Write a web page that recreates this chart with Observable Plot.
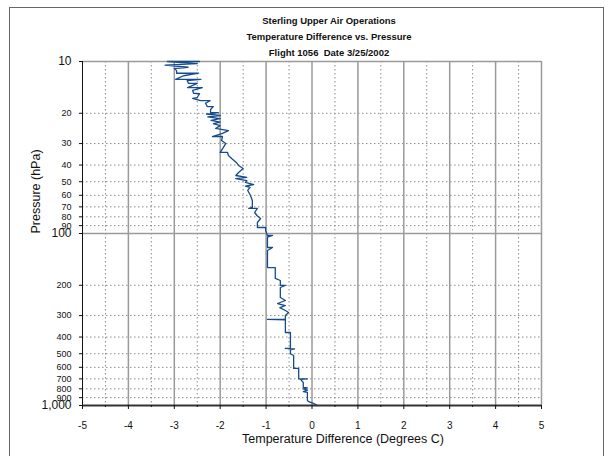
<!DOCTYPE html>
<html>
<head>
<meta charset="utf-8">
<script src="https://cdn.jsdelivr.net/npm/d3@7"></script>
<script src="https://cdn.jsdelivr.net/npm/@observablehq/plot@0.6"></script>
<style>
  html, body { margin: 0; padding: 0; background: #fff; }
  #wrap { position: relative; width: 613px; height: 456px; overflow: hidden; font-family: "Liberation Sans", Arial, sans-serif; }
  #frame { position: absolute; left: 9px; top: 7px; width: 595px; height: 470px; border: 1px solid #666; box-sizing: border-box; pointer-events: none; }
</style>
</head>
<body>
<div id="wrap"><div id="frame"></div></div>
<script>
const titleLines = ["Sterling Upper Air Operations", "Temperature Difference vs. Pressure", "Flight 1056  Date 3/25/2002"];
const xLabel = "Temperature Difference (Degrees C)";
const yLabel = "Pressure (hPa)";

const xTicks = [-5, -4, -3, -2, -1, 0, 1, 2, 3, 4, 5];
const xHalfTicks = [-4.5, -3.5, -2.5, -1.5, -0.5, 0.5, 1.5, 2.5, 3.5, 4.5];
const yMajorTicks = [10, 100, 1000];
const yMinorTicks = [20, 30, 40, 50, 60, 70, 80, 90, 200, 300, 400, 500, 600, 700, 800, 900];

const pressure = [10, 10, 10.3, 10.5, 10.8, 11.0, 11.3, 11.7, 11.7, 12.1, 12.7, 12.7, 12.9, 13.4, 13.4, 14.2, 14.2, 14.7, 15.3, 15.4,
  16.2, 16.4, 16.9, 16.9, 17.5, 18.3, 18.3, 19.0, 19.8, 19.8, 20.2, 20.6, 21.0, 21.5, 22.0, 22.5, 23.0, 23.6, 24.5, 25.2,
  26.2, 27.3, 27.3, 28.8, 30.0, 31.6, 33.8, 33.8, 35.2, 36.6, 38.6, 40.2, 41.9, 44.2, 46.0, 47.2, 48.0, 49.2, 50.5, 51.9,
  53.0, 54.0, 56.2, 60.1, 64.3, 70.6, 71.5, 71.5, 75.5, 78.6, 81.8, 86.3, 92.3, 92.3, 96.1, 102.7, 102.7, 105, 120.6, 120.6,
  125.6, 157.7, 157.7, 182.6, 187.6, 200.5, 200.5, 206, 235.5, 245.2, 255.3, 262.2, 270, 280.4, 288, 300, 316, 316, 318, 376.4,
  376.4, 466, 466, 468, 475, 500, 512, 609, 609, 697, 700, 700, 705, 735, 785, 790, 800, 815, 830, 840,
  935, 950, 973, 1000];
const tempDiff = [-2.45, -3.15, -2.5, -3.2, -2.7, -3.0, -2.95, -2.95, -2.47, -2.8, -2.97, -2.42, -2.72, -2.69, -2.5, -2.71, -2.39, -2.6, -2.58, -2.45,
  -2.5, -2.6, -2.43, -2.22, -2.32, -2.28, -2.15, -2.21, -2.21, -2.04, -2.3, -2.0, -2.27, -2.0, -2.2, -2.0, -2.15, -2.0, -2.1, -1.82,
  -1.95, -2.17, -1.95, -1.97, -1.88, -1.93, -2.0, -1.84, -1.82, -1.75, -1.65, -1.6, -1.5, -1.6, -1.66, -1.42, -1.66, -1.42, -1.45, -1.27,
  -1.45, -1.35, -1.4, -1.34, -1.3, -1.3, -1.38, -1.19, -1.25, -1.2, -1.12, -1.19, -1.19, -1.01, -1.01, -0.97, -0.86, -0.97, -0.97, -0.86,
  -0.97, -0.97, -0.8, -0.8, -0.69, -0.69, -0.58, -0.69, -0.69, -0.58, -0.75, -0.58, -0.7, -0.58, -0.51, -0.58, -0.58, -0.97, -0.58, -0.58,
  -0.47, -0.47, -0.58, -0.38, -0.47, -0.47, -0.40, -0.40, -0.29, -0.29, -0.29, -0.10, -0.25, -0.19, -0.19, -0.10, -0.19, -0.10, -0.19, -0.10,
  -0.10, -0.07, 0.03, 0.12];

const data = pressure.map((p, i) => ({p, t: tempDiff[i]}));
const font = "Liberation Sans, Arial, sans-serif";

const chart = Plot.plot({
  width: 613,
  height: 456,
  marginLeft: 82,
  marginRight: 72,
  marginTop: 61,
  marginBottom: 51,
  style: {fontFamily: font, background: "transparent", color: "#111", overflow: "visible"},
  x: {domain: [-5, 5], axis: null},
  y: {type: "log", domain: [10, 1000], reverse: true, axis: null},
  marks: [
    Plot.ruleX(xHalfTicks, {stroke: "#8a8a8a", strokeWidth: 1, strokeDasharray: "1.5,2.5"}),
    Plot.ruleY(yMinorTicks, {stroke: "#8a8a8a", strokeWidth: 1, strokeDasharray: "1.5,2.5"}),
    Plot.ruleX(xTicks.filter(d => d > -5), {stroke: "#9a9a9a", strokeWidth: 1.5}),
    Plot.ruleY([10, 100], {stroke: "#9a9a9a", strokeWidth: 1.5}),
    Plot.line(data, {x: "t", y: "p", stroke: "#164b8c", strokeWidth: 1.3}),
    Plot.ruleX([-5], {stroke: "#111", strokeWidth: 1}),
    Plot.ruleY([1000], {stroke: "#333", strokeWidth: 2}),
    Plot.axisX({ticks: xTicks, tickSize: 4, tickPadding: 12, fontSize: 10, tickFormat: d => String(d), label: null, stroke: "#111"}),
    Plot.axisX({ticks: xHalfTicks, tickSize: 2, tickFormat: () => "", label: null, stroke: "#111"}),
    Plot.ruleY(yMajorTicks.concat(yMinorTicks), {y: d => d, x1: -5.066, x2: -5, stroke: "#111"}),
    Plot.text(yMinorTicks, {y: d => d, frameAnchor: "left", dx: -11, textAnchor: "end", fontSize: 9, fill: "#111", text: d => String(d)}),
    Plot.text(yMajorTicks, {y: d => d, frameAnchor: "left", dx: -11, textAnchor: "end", fontSize: 12, fill: "#111", text: d => d3.format(",")(d)}),
    Plot.text([xLabel], {frameAnchor: "bottom", dx: 31, dy: 37, fontSize: 12.5, fill: "#111"}),
    Plot.text([yLabel], {frameAnchor: "left", dx: -47, rotate: -90, fontSize: 12.5, fill: "#111"}),
    Plot.text([titleLines[0]], {frameAnchor: "top", dx: 17, dy: -44, fontSize: 9.5, fontWeight: "bold", fill: "#111"}),
    Plot.text([titleLines[1]], {frameAnchor: "top", dx: 17, dy: -28, fontSize: 9.5, fontWeight: "bold", fill: "#111"}),
    Plot.text([titleLines[2]], {frameAnchor: "top", dx: 17, dy: -12, fontSize: 9.5, fontWeight: "bold", fill: "#111"})
  ]
});
chart.style.position = "absolute";
chart.style.left = "0px";
chart.style.top = "0px";
document.getElementById("wrap").appendChild(chart);
</script>
</body>
</html>
